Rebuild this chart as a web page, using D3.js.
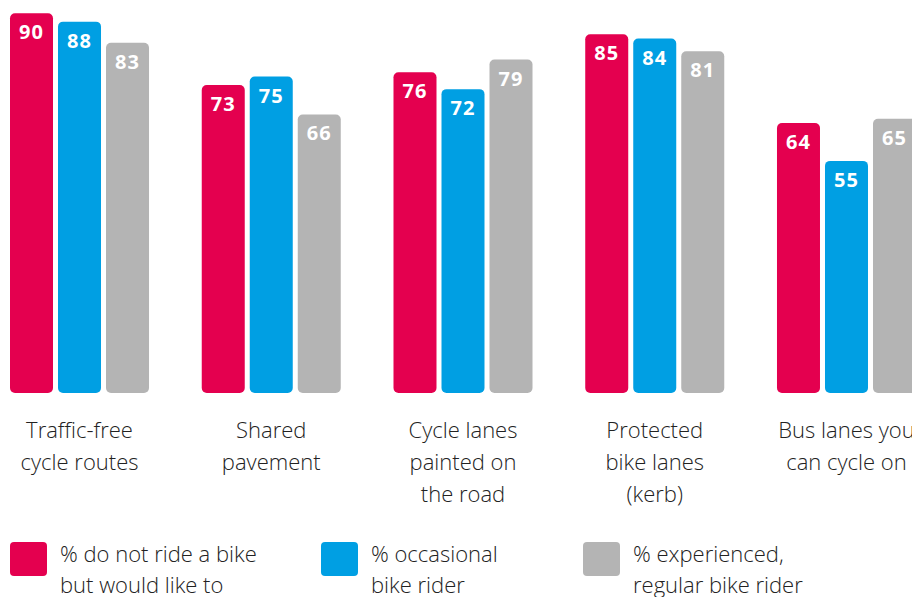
<!DOCTYPE html>
<html><head><meta charset="utf-8">
<script src="https://cdn.jsdelivr.net/npm/d3@7"></script>
<style>body{margin:0;background:#fff;}svg{display:block;}</style>
</head><body>
<svg id="chart" width="912" height="597"></svg>
<script>
const categories = [["Traffic-free","cycle routes"],["Shared","pavement"],["Cycle lanes","painted on","the road"],["Protected","bike lanes","(kerb)"],["Bus lanes you","can cycle on"]];
const seriesNames = ["% do not ride a bike|but would like to","% occasional|bike rider","% experienced,|regular bike rider"];
const nonRiders = [90,73,76,85,64];
const occasional = [88,75,72,84,55];
const regular = [83,66,79,81,65];
const colors = ["#e4004f","#009fe3","#b4b4b4"];

const svg = d3.select("#chart");
const values = [nonRiders, occasional, regular];
const catKeys = categories.map(c => c.join(" "));
const x0 = d3.scaleBand().domain(catKeys).range([10, 916]).paddingInner(0.275).paddingOuter(0);
const x1 = d3.scaleBand().domain([0,1,2]).range([0, x0.bandwidth()]).paddingInner(5/48).paddingOuter(0);
const y = d3.scaleLinear().domain([0, 100]).range([393, 393 - 422]);
const font = "'Open Sans', sans-serif";

catKeys.forEach((k, i) => {
  const g = svg.append("g").attr("transform", `translate(${x0(k)},0)`);
  values.forEach((arr, s) => {
    const v = arr[i];
    g.append("rect").attr("x", x1(s)).attr("y", y(v)).attr("width", x1.bandwidth())
      .attr("height", y(0) - y(v)).attr("rx", 5).attr("fill", colors[s]);
    g.append("text").attr("x", x1(s) + x1.bandwidth()/2).attr("y", y(v) + 26)
      .attr("text-anchor", "middle").attr("fill", "#fff").attr("font-family", font)
      .attr("font-weight", 700).attr("font-size", 20).attr("letter-spacing", 1).text(v);
  });
  const t = svg.append("text").attr("text-anchor", "middle").attr("font-family", font)
    .attr("font-weight", 300).attr("font-size", 22).attr("fill", "#222");
  categories[i].forEach((line, j) => {
    t.append("tspan").attr("x", x0(k) + x0.bandwidth()/2).attr("y", 438 + j*32).text(line);
  });
});

const legendX = [10, 321, 583];
seriesNames.forEach((name, s) => {
  svg.append("rect").attr("x", legendX[s]).attr("y", 542).attr("width", 37).attr("height", 34)
    .attr("rx", 4).attr("fill", colors[s]);
  const t = svg.append("text").attr("font-family", font).attr("font-weight", 300)
    .attr("font-size", 22).attr("fill", "#222");
  name.split("|").forEach((line, j) => {
    t.append("tspan").attr("x", legendX[s] + 50).attr("y", 562 + j*31).text(line);
  });
});
</script>
</body></html>
